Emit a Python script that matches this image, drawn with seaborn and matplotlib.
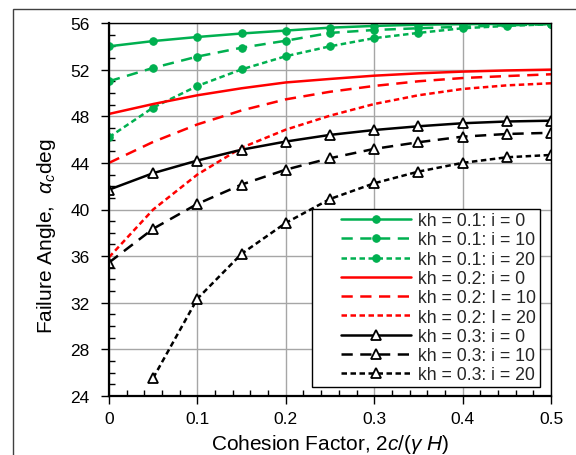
import numpy as np
import pandas as pd
import matplotlib
matplotlib.use("Agg")
import matplotlib.pyplot as plt
import seaborn as sns
from matplotlib.patches import Rectangle
from matplotlib.lines import Line2D
from matplotlib.legend_handler import HandlerLine2D
from matplotlib.ticker import MultipleLocator

sns.set_theme(style="white")
plt.rcParams['font.family'] = ['Liberation Sans', 'DejaVu Sans']
plt.rcParams['mathtext.fontset'] = 'custom'
plt.rcParams['mathtext.rm'] = 'Liberation Sans'
plt.rcParams['mathtext.it'] = 'Liberation Sans:italic'

x_full = [0, 0.05, 0.1, 0.15, 0.2, 0.25, 0.3, 0.35, 0.4, 0.45, 0.5]
x_part = [0.05, 0.1, 0.15, 0.2, 0.25, 0.3, 0.35, 0.4, 0.45, 0.5]

kh1_i0 = [54.0, 54.45, 54.8, 55.1, 55.35, 55.6, 55.75, 55.85, 55.9, 55.92, 55.92]
kh1_i10 = [51.0, 52.15, 53.12, 53.88, 54.48, 55.15, 55.4, 55.55, 55.68, 55.8, 55.9]
kh1_i20 = [46.2, 48.75, 50.6, 52.02, 53.15, 54.0, 54.7, 55.15, 55.55, 55.75, 55.9]
kh2_i0 = [48.2, 49.05, 49.8, 50.4, 50.9, 51.2, 51.48, 51.68, 51.83, 51.93, 52.0]
kh2_i10 = [44.0, 45.8, 47.3, 48.5, 49.45, 50.1, 50.6, 51.0, 51.28, 51.45, 51.6]
kh2_i20 = [35.9, 40.0, 43.0, 45.3, 46.85, 48.05, 49.05, 49.8, 50.34, 50.65, 50.83]
kh3_i0 = [41.7, 43.12, 44.2, 45.13, 45.83, 46.4, 46.82, 47.14, 47.4, 47.55, 47.62]
kh3_i10 = [35.45, 38.35, 40.48, 42.14, 43.42, 44.4, 45.2, 45.77, 46.25, 46.48, 46.58]
kh3_i20 = [25.55, 32.35, 36.2, 38.85, 40.9, 42.25, 43.25, 44.0, 44.48, 44.68]

labels = ["kh = 0.1: i = 0", "kh = 0.1: i = 10", "kh = 0.1: i = 20",
          "kh = 0.2: i = 0", "kh = 0.2: I = 10", "kh = 0.2: I = 20",
          "kh = 0.3: i = 0", "kh = 0.3: i = 10", "kh = 0.3: i = 20"]

series = [
    (x_full, kh1_i0, "#00B050", "solid", "o"),
    (x_full, kh1_i10, "#00B050", "dash", "o"),
    (x_full, kh1_i20, "#00B050", "sdash", "o"),
    (x_full, kh2_i0, "#FF0000", "solid", None),
    (x_full, kh2_i10, "#FF0000", "dash", None),
    (x_full, kh2_i20, "#FF0000", "sdash", None),
    (x_full, kh3_i0, "#000000", "solid", "^"),
    (x_full, kh3_i10, "#000000", "dash", "^"),
    (x_part, kh3_i20, "#000000", "sdash", "^"),
]
dash_map = {"dash": (4.5, 3.0), "sdash": (2.2, 1.4)}

fig = plt.figure(figsize=(5.76, 4.56), dpi=100)
ax = fig.add_axes([109/576, 1-397/456, (551-109)/576, (397-24)/456])

lw = 1.8
for (xs, ys, c, ls, mk), lab in zip(series, labels):
    df = pd.DataFrame({"x": xs, "y": ys})
    kw = dict(color=c, lw=lw, label=lab, ax=ax, legend=False)
    if mk == "o":
        kw.update(marker="o", markersize=5.4, markerfacecolor=c, markeredgecolor=c)
    elif mk == "^":
        kw.update(marker="^", markersize=7, markerfacecolor="white",
                  markeredgecolor="black", markeredgewidth=1.3)
    line = sns.lineplot(data=df, x="x", y="y", **kw).lines[-1]
    if ls != "solid":
        line.set_dashes(dash_map[ls])

ax.set_xlim(0, 0.5)
ax.set_ylim(24, 56)
ax.xaxis.set_minor_locator(MultipleLocator(0.02))
ax.yaxis.set_major_locator(MultipleLocator(4))
ax.yaxis.set_minor_locator(MultipleLocator(1))
ax.set_xticks([0, 0.1, 0.2, 0.3, 0.4, 0.5])
ax.set_xticklabels(["0", "0.1", "0.2", "0.3", "0.4", "0.5"])
ax.grid(True, which="major", color="#A6A6A6", lw=1.0)
ax.set_axisbelow(True)
ax.tick_params(which="major", direction="out", length=6, width=1, colors="black",
               labelsize=12.5, bottom=True, left=True)
ax.tick_params(axis="y", which="major", pad=8)
ax.tick_params(axis="x", which="major", pad=5)
ax.tick_params(which="minor", direction="in", length=4, width=1, colors="black",
               bottom=True, left=True)
for s in ["left", "bottom"]:
    ax.spines[s].set_color("black")
    ax.spines[s].set_linewidth(1.6)
for s in ["right", "top"]:
    ax.spines[s].set_color("black")
    ax.spines[s].set_linewidth(1.0)

ax.set_xlabel(r"Cohesion Factor, $2c/(\gamma\ H)$", fontsize=15, color="black")
ax.set_ylabel(r"Failure Angle,  $\alpha_c$deg", fontsize=15, color="black")
ax.xaxis.set_label_coords(0.5, -0.096)
ax.yaxis.set_label_coords((47-109)/442, 0.43)
ax.yaxis.label.set_va("center")

handles, labs = ax.get_legend_handles_labels()
leg = ax.legend(handles, labs, loc="lower right",
                bbox_to_anchor=((540-109)/442, (397-388)/373),
                borderaxespad=0, fontsize=12.7, frameon=True,
                fancybox=False, framealpha=1, edgecolor="black",
                handlelength=5.4, labelspacing=0.13,
                borderpad=0.2, handletextpad=0.45, numpoints=1,
                handler_map={Line2D: HandlerLine2D(xpad=1.45)})
leg.get_frame().set_linewidth(1.0)

fig.patches.append(Rectangle((13/576, -0.1), 1.2, 1-9.5/456+0.1,
                             transform=fig.transFigure, fill=False,
                             edgecolor="#404040", lw=1.0))

fig.savefig("out.png", dpi=100)
